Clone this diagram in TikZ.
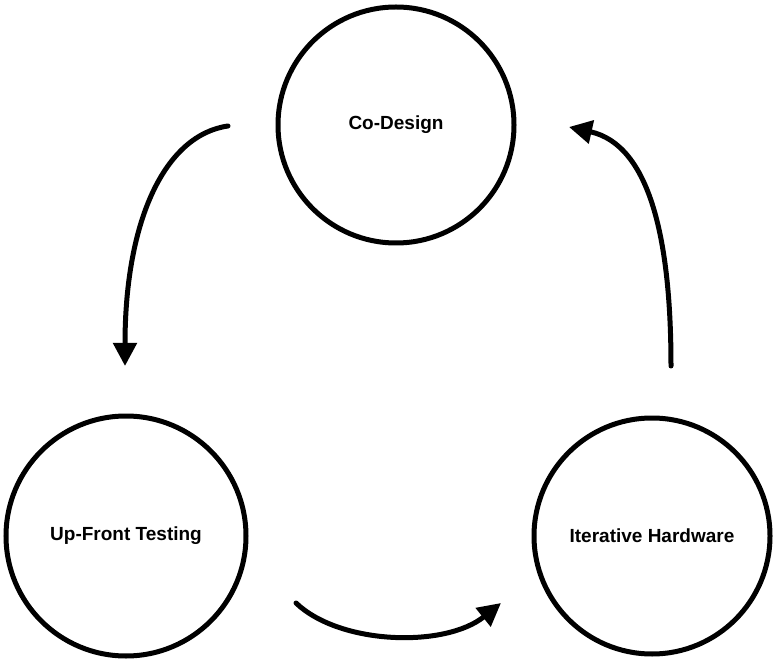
\documentclass[tikz,border=0pt]{standalone}
\usepackage{fontspec}
\setmainfont{Liberation Sans}
\usetikzlibrary{arrows.meta}
\begin{document}
\begin{tikzpicture}[x=1pt,y=-1pt,
  stage/.style={circle,draw=black,line width=5pt,inner sep=0pt,
    font=\fontsize{19}{23}\selectfont\bfseries},
  flow/.style={line width=5pt,line cap=round,
    -{Triangle[length=23pt,width=23pt]}}]
\useasboundingbox (0,0) rectangle (774,660);

% the three stages of the cycle
\node[stage,minimum size=236pt] (codesign) at (396,125) {Co-Design};
\node[stage,minimum size=240pt] (upfront) at (126,536) {Up-Front Testing};
\node[stage,minimum size=236pt] (iterative) at (652,536) {Iterative Hardware};

% free ends of the curved arrows
\coordinate (a1s) at (228,126);
\coordinate (a1e) at (125,366);
\coordinate (a2s) at (671,366);
\coordinate (a2e) at (569,127);
\coordinate (a3s) at (296,603);
\coordinate (a3e) at (501,603);

\draw[flow] (a1s) .. controls (165,135) and (125,220) .. (a1e);
\draw[flow] (a2s) .. controls (671,240) and (650,145) .. (a2e);
\draw[flow] (a3s) .. controls (340,645) and (445,648) .. (a3e);
\end{tikzpicture}
\end{document}
